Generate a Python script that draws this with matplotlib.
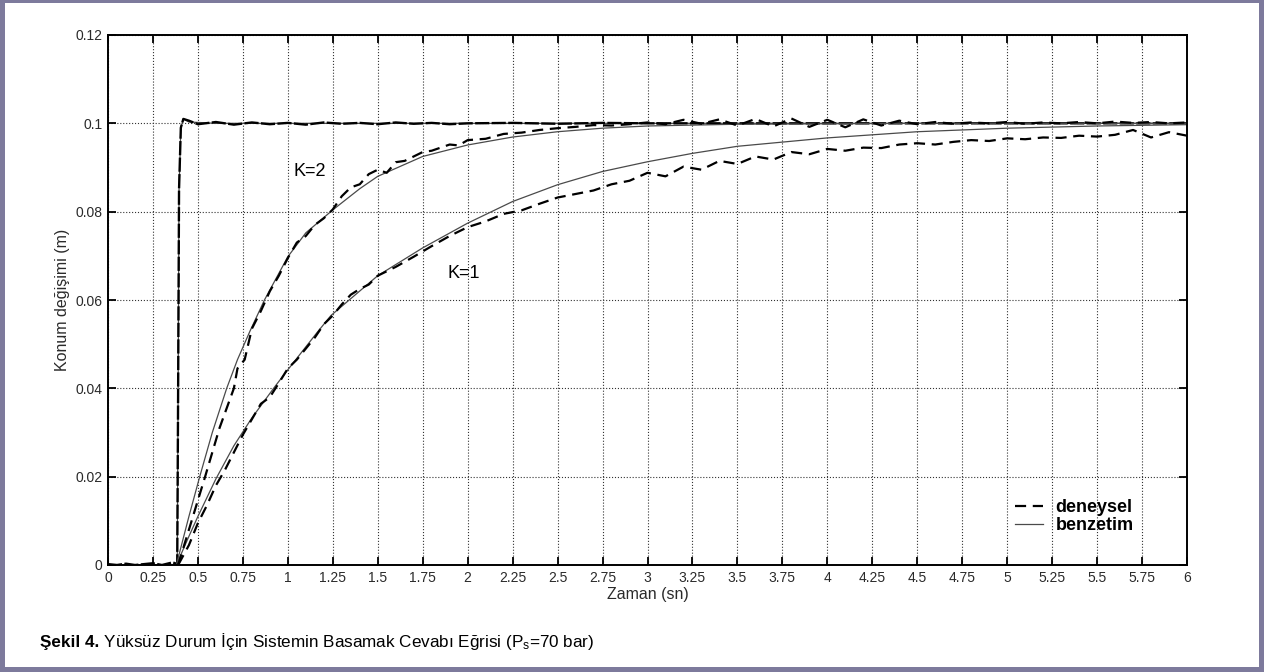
import matplotlib.pyplot as plt
from matplotlib.patches import Rectangle

plt.rcParams['font.family'] = ['Liberation Sans', 'DejaVu Sans']

# step curve (fast response, top)
t_step = [0, 0.1, 0.2, 0.25, 0.3, 0.35, 0.385, 0.39, 0.395, 0.405, 0.419, 0.45, 0.6, 1.0, 2.0, 3.0, 4.0, 5.0, 6.0]
y_step = [0, 0, 0, 0, 0, 0, 0, 0.04, 0.085, 0.099, 0.101, 0.1003, 0.1, 0.1, 0.1, 0.1, 0.1, 0.1, 0.1]
t_step_exp = [0, 0.05, 0.1, 0.15, 0.2, 0.25, 0.3, 0.33, 0.36, 0.385, 0.39, 0.395, 0.405, 0.419, 0.45,
              0.5, 0.6, 0.7, 0.8, 0.9, 1.0, 1.1, 1.2, 1.3, 1.4, 1.5, 1.6, 1.7, 1.8, 1.9, 2.0,
              2.25, 2.5, 2.75, 3.0, 3.5, 4.0, 4.5, 5.0, 5.5, 6.0]
y_step_exp = [0.0002, 0, 0.0003, 0, 0.0002, 0.0004, 0, 0.0003, 0.0006, 0.0002, 0.04, 0.085, 0.099, 0.101, 0.1006,
              0.0998, 0.1003, 0.0997, 0.1002, 0.0998, 0.1001, 0.0997, 0.1002, 0.0999, 0.1001, 0.0998, 0.1002, 0.0999, 0.1001, 0.0998, 0.1,
              0.1001, 0.0999, 0.1001, 0.1, 0.1, 0.1, 0.1, 0.1, 0.1, 0.1]

# K=2
t_k2_sim = [0.38, 0.45, 0.51, 0.58, 0.66, 0.72, 0.79, 0.87, 1.0, 1.1, 1.25, 1.4, 1.5, 1.75, 2.0, 2.25,
            2.5, 2.75, 3.0, 3.5, 4.0, 4.5, 5.0, 6.0]
y_k2_sim = [0, 0.011, 0.02, 0.03, 0.04, 0.0465, 0.053, 0.06, 0.0698, 0.0752, 0.0804, 0.0852, 0.088, 0.0925, 0.0951, 0.0969,
            0.0981, 0.0989, 0.0994, 0.0998, 0.0999, 0.1, 0.1, 0.1]
t_k2_exp = [0.39, 0.45, 0.54, 0.62, 0.70, 0.72, 0.76, 0.80, 0.85, 0.90, 0.95, 1.0, 1.05, 1.1, 1.15, 1.2, 1.25,
            1.3, 1.35, 1.4, 1.45, 1.5, 1.55, 1.6, 1.65, 1.7, 1.75, 1.8, 1.85, 1.9, 1.95, 2.0, 2.1, 2.2, 2.3,
            2.4, 2.5, 2.6, 2.7, 2.8, 2.9, 3.0, 3.1, 3.2, 3.3, 3.4, 3.5, 3.6, 3.7, 3.8, 3.9, 4.0, 4.1, 4.2,
            4.3, 4.4, 4.5, 4.6, 4.7, 4.8, 4.9, 5.0, 5.1, 5.2, 5.3, 5.4, 5.5, 5.6, 5.7, 5.8, 5.9, 6.0]
y_k2_exp = [0, 0.008, 0.02, 0.031, 0.04, 0.0445, 0.0465, 0.0535, 0.0575, 0.062, 0.0655, 0.0695, 0.073, 0.0745, 0.077, 0.0785, 0.0805,
            0.0835, 0.0855, 0.0862, 0.0885, 0.0895, 0.0888, 0.0912, 0.0915, 0.0925, 0.0935, 0.0938, 0.0945, 0.0952, 0.095, 0.0962, 0.0965, 0.0976, 0.0979,
            0.0985, 0.0989, 0.0992, 0.0996, 0.0995, 0.0998, 0.1002, 0.0998, 0.1008, 0.0999, 0.1009, 0.0995, 0.1010, 0.0993, 0.1011, 0.0992, 0.1008, 0.0991, 0.1009,
            0.0995, 0.1006, 0.0998, 0.1003, 0.0999, 0.1002, 0.1, 0.1003, 0.0999, 0.1002, 0.1, 0.1003, 0.1, 0.1004, 0.1001, 0.1003, 0.1, 0.1002]

# K=1
t_k1_sim = [0.38, 0.45, 0.5, 0.6, 0.7, 0.8, 0.93, 1.0, 1.16, 1.24, 1.5, 1.75, 2.0, 2.25, 2.5, 2.75, 3.0,
            3.25, 3.5, 4.0, 4.5, 5.0, 5.5, 6.0]
y_k1_sim = [0, 0.0065, 0.011, 0.0195, 0.027, 0.0333, 0.0405, 0.0442, 0.0525, 0.0565, 0.0655, 0.0718, 0.0774, 0.0823, 0.0861, 0.0891, 0.0913,
            0.0932, 0.0948, 0.0967, 0.0981, 0.0989, 0.0994, 0.0997]
t_k1_exp = [0.39, 0.45, 0.5, 0.55, 0.6, 0.65, 0.7, 0.75, 0.8, 0.85, 0.9, 0.95, 1.0, 1.05, 1.1, 1.15, 1.2, 1.25,
            1.3, 1.35, 1.4, 1.45, 1.5, 1.6, 1.7, 1.8, 1.9, 2.0, 2.1, 2.2, 2.3, 2.4, 2.5, 2.6, 2.7, 2.8, 2.9,
            3.0, 3.1, 3.2, 3.3, 3.4, 3.5, 3.6, 3.7, 3.8, 3.9, 4.0, 4.1, 4.2, 4.3, 4.4, 4.5, 4.6, 4.7, 4.8, 4.9,
            5.0, 5.1, 5.2, 5.3, 5.4, 5.5, 5.6, 5.7, 5.8, 5.9, 6.0]
y_k1_exp = [0, 0.0045, 0.0095, 0.0135, 0.018, 0.0215, 0.0255, 0.0295, 0.033, 0.0365, 0.038, 0.0412, 0.0445, 0.0465, 0.049, 0.0515, 0.0545, 0.0565,
            0.059, 0.0612, 0.0625, 0.0635, 0.0655, 0.0675, 0.0698, 0.0722, 0.0745, 0.0765, 0.0778, 0.0795, 0.0803, 0.0818, 0.0832, 0.084, 0.0848, 0.0862, 0.087,
            0.0888, 0.088, 0.0902, 0.0895, 0.0915, 0.0908, 0.0925, 0.0918, 0.0935, 0.093, 0.0942, 0.0938, 0.0945, 0.0944, 0.0952, 0.0955, 0.0952, 0.0958, 0.0962, 0.096,
            0.0966, 0.0964, 0.0968, 0.0967, 0.0972, 0.097, 0.0974, 0.0985, 0.0968, 0.098, 0.0972]

x_ticks = [0, 0.25, 0.5, 0.75, 1, 1.25, 1.5, 1.75, 2, 2.25, 2.5, 2.75, 3, 3.25, 3.5, 3.75, 4,
           4.25, 4.5, 4.75, 5, 5.25, 5.5, 5.75, 6]
x_labels = ['0', '0.25', '0.5', '0.75', '1', '1.25', '1.5', '1.75', '2', '2.25', '2.5', '2.75', '3', '3.25',
            '3.5', '3.75', '4', '4.25', '4.5', '4.75', '5', '5.25', '5.5', '5.75', '6']
y_ticks = [0, 0.02, 0.04, 0.06, 0.08, 0.1, 0.12]
y_labels = ['0', '0.02', '0.04', '0.06', '0.08', '0.1', '0.12']

fig = plt.figure(figsize=(12.64, 6.72), dpi=100, facecolor='#7d7a9c')
fig.patches.append(Rectangle((5 / 1264, 5 / 672), 1 - 10 / 1264, 1 - 8 / 672, transform=fig.transFigure,
                             facecolor='white', edgecolor='none', zorder=-5))

ax = fig.add_axes([108 / 1264, 1 - 565 / 672, 1079 / 1264, 530 / 672])
sim_style = dict(color='#4a4a4a', lw=0.9, solid_joinstyle='round')
exp_style = dict(color='black', lw=1.6, linestyle=(0, (5, 3)))

ax.plot(t_step, y_step, **sim_style)
ax.plot(t_step_exp, y_step_exp, color='black', lw=1.7, linestyle=(0, (6, 1)))
ax.plot(t_k2_sim, y_k2_sim, **sim_style)
ax.plot(t_k1_sim, y_k1_sim, **sim_style, label='benzetim')
ax.plot(t_k2_exp, y_k2_exp, **exp_style)
ax.plot(t_k1_exp, y_k1_exp, **exp_style, label='deneysel')

ax.text(1.12, 0.0892, 'K=2', fontsize=13, ha='center', va='center')
ax.text(1.98, 0.0659, 'K=1', fontsize=13, ha='center', va='center')

ax.set_xlim(0, 6)
ax.set_ylim(0, 0.12)
ax.set_xticks(x_ticks)
ax.set_xticklabels(x_labels)
ax.set_yticks(y_ticks)
ax.set_yticklabels(y_labels)
ax.tick_params(direction='in', length=6, width=1.3, top=True, right=True, labelsize=10,
               labelcolor='#2a2a2a', pad=4)
ax.grid(True, linestyle=':', color='#333333', lw=0.8)
for s in ax.spines.values():
    s.set_linewidth(1.4)
ax.set_xlabel('Zaman (sn)', fontsize=11.5, color='#2a2a2a', labelpad=2)
ax.set_ylabel('Konum değişimi (m)', fontsize=11.5, color='#2a2a2a', labelpad=4)

h, l = ax.get_legend_handles_labels()
ax.legend([h[1], h[0]], [l[1], l[0]], loc='upper left', bbox_to_anchor=(0.8406, 0.124), frameon=False,
          borderpad=0, borderaxespad=0, handlelength=1.55, handletextpad=0.7, labelspacing=0.05,
          prop={'size': 13, 'weight': 'bold'})

t1 = fig.text(40 / 1264, 1 - 642 / 672, 'Şekil 4.', fontsize=12.3, fontweight='bold', va='center')
ax.annotate(' Yüksüz Durum İçin Sistemin Basamak Cevabı Eğrisi (P$\\mathregular{_s}$=70 bar)',
            xy=(1, 0.5), xycoords=t1, va='center', ha='left', fontsize=12.3, annotation_clip=False)

fig.savefig('out.png', dpi=100, facecolor=fig.get_facecolor())
